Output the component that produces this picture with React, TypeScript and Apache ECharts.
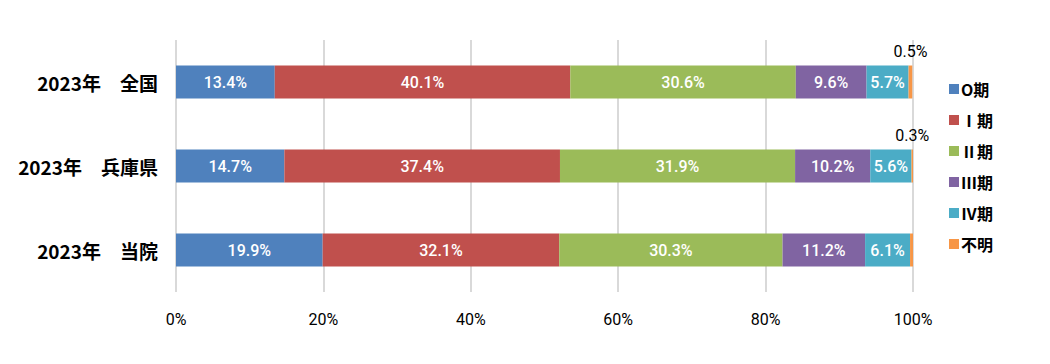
import React, { useEffect, useRef } from "react";
import * as echarts from "echarts";

const categories = ["2023年　全国", "2023年　兵庫県", "2023年　当院"];
const seriesNames = ["O期", "Ⅰ期", "Ⅱ期", "Ⅲ期", "Ⅳ期", "不明"];
const stage0 = [13.4, 14.7, 19.9];
const stage1 = [40.1, 37.4, 32.1];
const stage2 = [30.6, 31.9, 30.3];
const stage3 = [9.6, 10.2, 11.2];
const stage4 = [5.7, 5.6, 6.1];
const unknown = [0.5, 0.3, 0.4];
const unknownLabelShown = [true, true, false];
const xTicks = [0, 20, 40, 60, 80, 100];
const colors = ["#4F81BD", "#C0504D", "#9BBB59", "#8064A2", "#4BACC6", "#F79646"];

const narrow = "'Liberation Sans Narrow', 'Arial Narrow', 'Roboto', 'Noto Sans CJK JP', sans-serif";
const cjk = "'Noto Sans CJK JP', sans-serif";

export default function App() {
  const ref = useRef<HTMLDivElement>(null);
  useEffect(() => {
    if (!ref.current) return;
    const chart = echarts.init(ref.current, null, { renderer: "svg" });
    const values = [stage0, stage1, stage2, stage3, stage4, unknown];
    const series = values.map((vals, i) => {
      const isUnknown = i === 5;
      return {
        name: seriesNames[i],
        type: "bar",
        stack: "total",
        barWidth: 33,
        itemStyle: { color: colors[i] },
        data: vals.map((v, j) => ({
          value: v,
          label: isUnknown
            ? {
                show: unknownLabelShown[j],
                position: "top",
                distance: 6,
                color: "#000",
                fontSize: 16,
                fontFamily: narrow,
                formatter: (p: any) => p.value.toFixed(1) + "%",
              }
            : {
                show: true,
                position: "inside",
                color: "#fff",
                fontSize: 16,
                fontWeight: 500,
                fontFamily: narrow,
                formatter: (p: any) => p.value.toFixed(1) + "%",
              },
        })),
      };
    });
    chart.setOption({
      animation: false,
      grid: { left: 176, right: 137, top: 40, bottom: 72 },
      legend: {
        orient: "vertical",
        left: 944,
        top: 76,
        itemWidth: 10,
        itemHeight: 10,
        itemGap: 15,
        icon: "rect",
        data: seriesNames,
        textStyle: { fontSize: 16, fontWeight: "bold", color: "#000", fontFamily: cjk, padding: [0, 0, 0, -3] },
      },
      xAxis: {
        type: "value",
        min: 0,
        max: 100,
        interval: 20,
        axisLine: { show: false },
        axisTick: { show: false },
        splitLine: { show: true, lineStyle: { color: "#d9d9d9", width: 2 } },
        axisLabel: {
          margin: 19,
          color: "#000",
          fontSize: 16,
          fontFamily: narrow,
          formatter: (v: number) => (xTicks.includes(v) ? v + "%" : ""),
        },
      },
      yAxis: {
        type: "category",
        inverse: true,
        data: categories,
        axisLine: { show: false },
        axisTick: { show: false },
        axisLabel: {
          margin: 18,
          color: "#000",
          fontSize: 19,
          fontWeight: "bold",
          fontFamily: cjk,
        },
      },
      series,
    });
    return () => chart.dispose();
  }, []);
  return (
    <div
      ref={ref}
      style={{ position: "fixed", left: 0, top: 0, width: 1050, height: 364, background: "#fff" }}
    />
  );
}
